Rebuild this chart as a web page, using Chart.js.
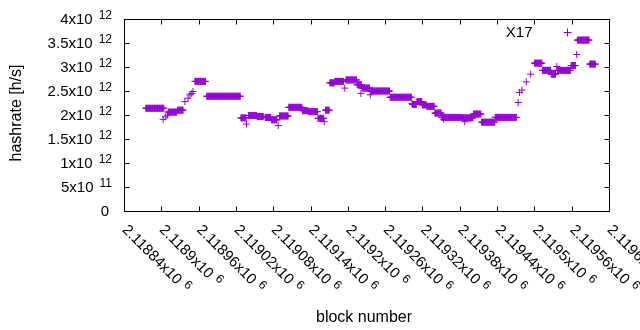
<!DOCTYPE html>
<html>
<head>
<meta charset="utf-8">
<script src="https://cdn.jsdelivr.net/npm/chart.js@4/dist/chart.umd.min.js"></script>
<style>
  html, body { margin: 0; background: #fff; }
</style>
</head>
<body>
<canvas id="myChart" width="640" height="330"></canvas>
<script>
// Runs of blocks sharing one hashrate estimate (in 10^12 h/s). A single point has from == to.
const runFrom = [
  2118875, 2118903, 2118907, 2118910, 2118911, 2118926, 2118938, 2118943, 2118946, 2118949,
  2118951, 2118954, 2118973, 2119028, 2119037, 2119040, 2119054, 2119067, 2119077, 2119088,
  2119090, 2119105, 2119127, 2119137, 2119152, 2119162, 2119164, 2119171, 2119179, 2119195,
  2119197, 2119215, 2119221, 2119223, 2119236, 2119237, 2119268, 2119303, 2119304, 2119311,
  2119320, 2119327, 2119340, 2119354, 2119351, 2119384, 2119388, 2119402, 2119415, 2119437,
  2119474, 2119476, 2119480, 2119487, 2119494, 2119500, 2119513, 2119527, 2119536, 2119537,
  2119559, 2119568, 2119569, 2119589
];
const runTo = [
  2118904, 2118903, 2118907, 2118910, 2118925, 2118935, 2118938, 2118943, 2118946, 2118949,
  2118951, 2118971, 2119027, 2119036, 2119037, 2119053, 2119064, 2119076, 2119086, 2119088,
  2119104, 2119126, 2119136, 2119151, 2119161, 2119162, 2119170, 2119178, 2119193, 2119195,
  2119214, 2119222, 2119221, 2119235, 2119236, 2119267, 2119302, 2119303, 2119310, 2119319,
  2119326, 2119339, 2119350, 2119354, 2119383, 2119401, 2119388, 2119414, 2119436, 2119471,
  2119474, 2119476, 2119480, 2119487, 2119494, 2119512, 2119526, 2119534, 2119536, 2119558,
  2119566, 2119568, 2119588, 2119598
];
const runHash = [
  2.14, 1.91, 1.96, 2.00, 2.06, 2.10, 2.28, 2.35, 2.42, 2.45,
  2.49, 2.70, 2.39, 1.94, 1.81, 1.99, 1.97, 1.95, 1.90, 1.78,
  1.98, 2.16, 2.09, 2.07, 1.93, 1.86, 2.10, 2.67, 2.70, 2.56,
  2.73, 2.63, 2.45, 2.56, 2.42, 2.50, 2.37, 2.24, 2.22, 2.28,
  2.21, 2.18, 2.04, 1.91, 1.95, 1.94, 1.86, 2.02, 1.85, 1.95,
  2.26, 2.47, 2.52, 2.69, 2.85, 3.08, 2.93, 2.85, 3.01, 2.93,
  3.03, 3.26, 3.56, 3.06
];

const xTickMantissa = ["2.11884", "2.1189", "2.11896", "2.11902", "2.11908", "2.11914", "2.1192",
  "2.11926", "2.11932", "2.11938", "2.11944", "2.1195", "2.11956", "2.11962"];
const xTickExp = "6";
const yTickMantissa = ["0", "5x10", "1x10", "1.5x10", "2x10", "2.5x10", "3x10", "3.5x10", "4x10"];
const yTickExp = ["", "11", "12", "12", "12", "12", "12", "12", "12"];

const seriesName = "X17";
const purple = "#9400d3";
const font = (s) => s + "px 'Liberation Sans', Arial, sans-serif";

const points = [];
runFrom.forEach((from, i) => {
  for (let b = from; b <= runTo[i]; b++) points.push({ x: b, y: runHash[i] * 1e12 });
});

// border, inward mirrored ticks, enhanced-text style labels and the key
const gnuplotFrame = {
  id: "gnuplotFrame",
  afterDraw(chart) {
    const ctx = chart.ctx;
    const { left, right, top, bottom } = chart.chartArea;
    const xs = chart.scales.x, ys = chart.scales.y;
    const tl = 5;
    ctx.save();
    ctx.strokeStyle = "#000";
    ctx.lineWidth = 1;
    ctx.beginPath();
    ctx.rect(left + 0.5, top + 0.5, right - left, bottom - top);
    xs.ticks.forEach(t => {
      const px = Math.round(xs.getPixelForValue(t.value)) + 0.5;
      ctx.moveTo(px, bottom + 0.5); ctx.lineTo(px, bottom + 0.5 - tl);
      ctx.moveTo(px, top + 0.5); ctx.lineTo(px, top + 0.5 + tl);
    });
    ys.ticks.forEach(t => {
      const py = Math.round(ys.getPixelForValue(t.value)) + 0.5;
      ctx.moveTo(left + 0.5, py); ctx.lineTo(left + 0.5 + tl, py);
      ctx.moveTo(right + 0.5, py); ctx.lineTo(right + 0.5 - tl, py);
    });
    ctx.stroke();

    ctx.fillStyle = "#000";
    // y tick labels
    ys.ticks.forEach((t, i) => {
      const py = ys.getPixelForValue(t.value);
      const base = py + 5;
      ctx.textAlign = "right";
      ctx.textBaseline = "alphabetic";
      if (!yTickExp[i]) {
        ctx.font = font(15);
        ctx.fillText(yTickMantissa[i], 109, base);
        return;
      }
      ctx.font = font(12);
      const ew = ctx.measureText(yTickExp[i]).width;
      ctx.fillText(yTickExp[i], 112, base - 5);
      ctx.font = font(15);
      ctx.fillText(yTickMantissa[i], 112 - ew - 6, base);
    });
    // x tick labels, rotated -45 (reading down to the right)
    xs.ticks.forEach((t, i) => {
      const px = xs.getPixelForValue(t.value);
      ctx.save();
      ctx.translate(px - 2.5, 230.5);
      ctx.rotate(Math.PI / 4);
      ctx.textAlign = "left";
      ctx.textBaseline = "alphabetic";
      ctx.font = font(15);
      const m = xTickMantissa[i] + "x10";
      ctx.fillText(m, 0, 0);
      const mw = ctx.measureText(m).width;
      ctx.font = font(12);
      ctx.fillText(xTickExp, mw + 5, -5);
      ctx.restore();
    });
    // axis titles
    ctx.font = font(16);
    ctx.textAlign = "center";
    ctx.fillText("block number", 364, 322);
    ctx.save();
    ctx.translate(21, 113);
    ctx.rotate(-Math.PI / 2);
    ctx.fillText("hashrate [h/s]", 0, 0);
    ctx.restore();
    // key
    ctx.font = font(15);
    ctx.textAlign = "right";
    ctx.fillText(seriesName, 532.5, 37);
    ctx.strokeStyle = purple;
    ctx.beginPath();
    ctx.moveTo(563.5, 32.5); ctx.lineTo(571.5, 32.5);
    ctx.moveTo(567.5, 28.5); ctx.lineTo(567.5, 36.5);
    ctx.stroke();
    ctx.restore();
  }
};

new Chart(document.getElementById("myChart"), {
  type: "scatter",
  data: {
    datasets: [{
      label: seriesName,
      data: points,
      pointStyle: "cross",
      pointRadius: 3.5,
      pointBorderWidth: 1,
      borderColor: purple,
      backgroundColor: purple,
    }],
  },
  options: {
    responsive: false,
    animation: false,
    events: [],
    layout: { padding: { left: 124, right: 31, top: 19, bottom: 119 } },
    plugins: { legend: { display: false }, tooltip: { enabled: false } },
    scales: {
      x: {
        type: "linear", min: 2118840, max: 2119620,
        ticks: { stepSize: 60, display: false },
        grid: { display: false }, border: { display: false },
        afterFit: (s) => { s.height = 0; },
      },
      y: {
        min: 0, max: 4e12,
        ticks: { stepSize: 5e11, display: false },
        grid: { display: false }, border: { display: false },
        afterFit: (s) => { s.width = 0; },
      },
    },
  },
  plugins: [gnuplotFrame],
});
</script>
</body>
</html>
